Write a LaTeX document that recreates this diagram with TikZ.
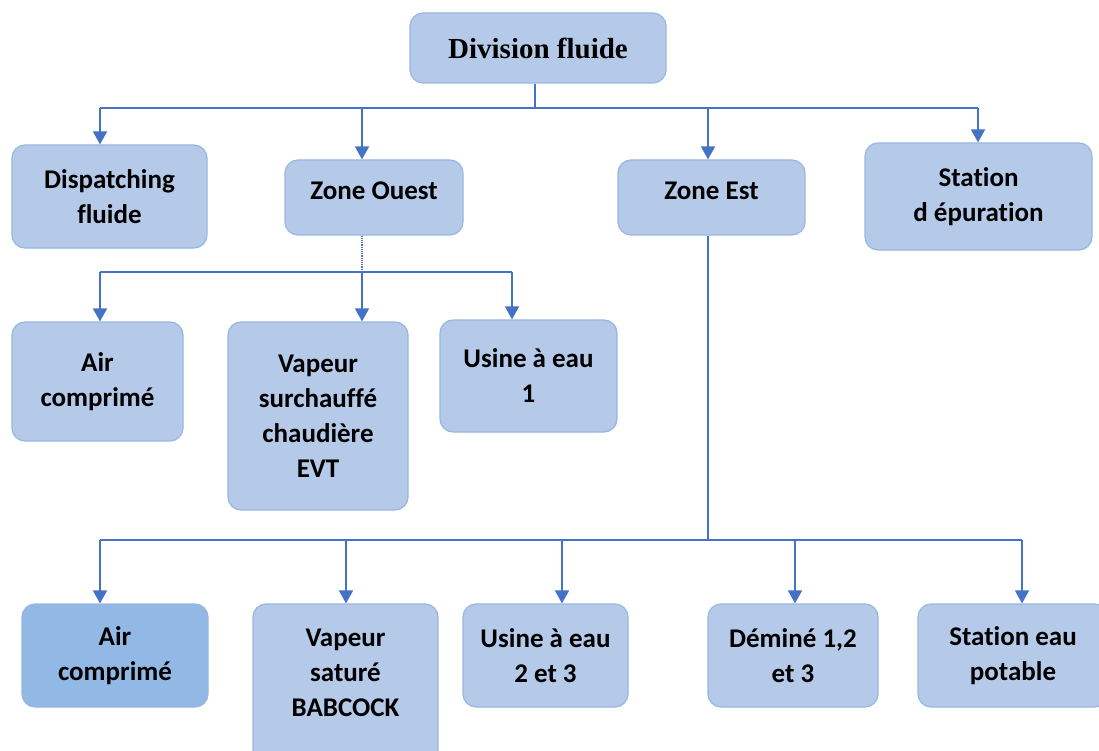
\documentclass[tikz,border=0pt]{standalone}
\usepackage{fontspec}
\setmainfont{Carlito}[Ligatures=NoCommon]
\newfontfamily\titlefont{Liberation Serif}
\usetikzlibrary{arrows.meta}
\definecolor{boxfill}{RGB}{181,202,233}
\definecolor{boxdark}{RGB}{146,184,230}
\definecolor{boxline}{RGB}{152,182,224}
\definecolor{linkblue}{RGB}{68,114,196}
\begin{document}
\begin{tikzpicture}[x=1pt,y=-1pt,
  unit/.style={draw=boxline, line width=1.2pt, fill=boxfill, rounded corners=13pt,
    align=center, inner sep=0pt, font=\bfseries\fontsize{27}{35}\selectfont},
  link/.style={draw=linkblue, line width=1.7pt},
  arr/.style={link, -{Triangle[width=14pt,length=13pt]}}]
\clip (0,0) rectangle (1099,751);
\useasboundingbox (0,0) rectangle (1099,751);

% top level
\node[unit, minimum width=256pt, minimum height=70pt,
  font=\titlefont\bfseries\fontsize{29}{35}\selectfont] (top) at (538,48) {Division fluide};

% second level
\node[unit, minimum width=195pt, minimum height=103pt] (disp) at (109.5,196.5) {Dispatching\\fluide};
\node[unit, minimum width=178pt, minimum height=75pt, text depth=14pt] (zo) at (374,197.5) {Zone Ouest};
\node[unit, minimum width=187pt, minimum height=75pt, text depth=14pt] (ze) at (711.5,197.5) {Zone Est};
\node[unit, minimum width=227pt, minimum height=107pt] (step) at (978.5,196.5) {Station\\d épuration};

% west zone
\node[unit, minimum width=171pt, minimum height=119pt] (air1) at (97.5,381.5) {Air\\comprimé};
\node[unit, minimum width=180pt, minimum height=188pt] (vap1) at (318,416) {Vapeur\\surchauffé\\chaudière\\EVT};
\node[unit, minimum width=177pt, minimum height=112pt] (us1) at (528.5,376) {Usine à eau\\1};

% east zone
\node[unit, fill=boxdark, minimum width=186pt, minimum height=103pt] (air2) at (115,655.5) {Air\\comprimé};
\node[unit, minimum width=185pt, minimum height=160pt, text depth=22pt] (vap2) at (345.5,684) {Vapeur\\saturé\\BABCOCK};
\node[unit, minimum width=165pt, minimum height=103pt] (us2) at (545.5,655.5) {Usine à eau\\2 et 3};
\node[unit, minimum width=170pt, minimum height=103pt] (dem) at (793,655.5) {Déminé 1,2\\et 3};
\node[unit, minimum width=190pt, minimum height=103pt] (ste) at (1013,655.5) {Station eau\\potable};

% bus junctions
\coordinate (t0) at (535,108);
\coordinate (t1) at (100,108);
\coordinate (t2) at (362,108);
\coordinate (t3) at (708,108);
\coordinate (t4) at (978,108);
\coordinate (w0) at (362,272);
\coordinate (w1) at (100,272);
\coordinate (w3) at (512,272);
\coordinate (e0) at (708,540);
\coordinate (e1) at (100,540);
\coordinate (e2) at (346,540);
\coordinate (e3) at (562,540);
\coordinate (e4) at (795,540);
\coordinate (e5) at (1022,540);

% top bus
\draw[link] (t0 |- top.south) -- (t0);
\draw[link] (t1) -- (t4);
\draw[arr] (t1) -- (t1 |- disp.north);
\draw[arr] (t2) -- (t2 |- zo.north);
\draw[arr] (t3) -- (t3 |- ze.north);
\draw[arr] (t4) -- (t4 |- step.north);

% west bus
\draw[link, line width=1.2pt, densely dotted] (w0 |- zo.south) -- (w0);
\draw[link] (w1) -- (w3);
\draw[arr] (w1) -- (w1 |- air1.north);
\draw[arr] (w0) -- (w0 |- vap1.north);
\draw[arr] (w3) -- (w3 |- us1.north);

% east bus
\draw[link] (e0 |- ze.south) -- (e0);
\draw[link] (e1) -- (e5);
\draw[arr] (e1) -- (e1 |- air2.north);
\draw[arr] (e2) -- (e2 |- vap2.north);
\draw[arr] (e3) -- (e3 |- us2.north);
\draw[arr] (e4) -- (e4 |- dem.north);
\draw[arr] (e5) -- (e5 |- ste.north);
\end{tikzpicture}
\end{document}
